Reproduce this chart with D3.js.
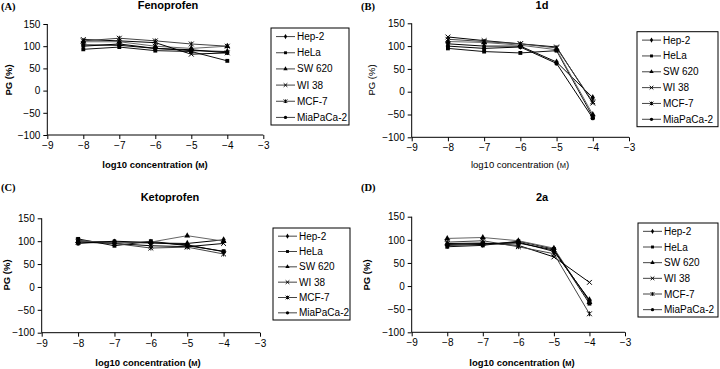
<!DOCTYPE html>
<html lang="en">
<head>
<meta charset="utf-8">
<style>
  body { margin: 0; background: #fff; }
  svg { font-family: "Liberation Sans", Arial, sans-serif; }
</style>
<script src="https://d3js.org/d3.v7.min.js"></script>
</head>
<body>
<svg width="720" height="369"></svg>
<script>

// log10 concentration (M)
var concentrations = [-8, -7, -6, -5, -4];
var cellLines = ["Hep-2", "HeLa", "SW 620", "WI 38", "MCF-7", "MiaPaCa-2"];
var xTicks = [-9, -8, -7, -6, -5, -4, -3];
var yTicks = [150, 100, 50, 0, -50, -100];

// PG (%) per cell line (rows follow cellLines)
var fenoprofen = [
  [100, 105, 95, 90, 88],
  [93, 98, 90, 88, 67],
  [110, 110, 100, 95, 100],
  [115, 112, 108, 82, 85],
  [112, 118, 112, 105, 100],
  [103, 102, 95, 92, 85]
];
var compound1d = [
  [105, 100, 100, 65, -13],
  [95, 88, 85, 90, -55],
  [110, 108, 102, 92, -50],
  [120, 112, 105, 98, -25],
  [115, 110, 105, 96, -22],
  [100, 95, 98, 62, -58]
];
var ketoprofen = [
  [100, 98, 96, 95, 103],
  [105, 90, 100, 90, 78],
  [100, 97, 98, 112, 100],
  [98, 95, 90, 88, 95],
  [102, 95, 85, 87, 72],
  [95, 100, 97, 92, 77]
];
var compound2a = [
  [88, 90, 95, 75, -30],
  [85, 88, 97, 80, -38],
  [103, 105, 98, 82, -35],
  [92, 93, 88, 63, 8],
  [95, 98, 85, 70, -60],
  [90, 92, 93, 78, -32]
];

var lineColors = ["#000", "#111", "#666", "#000", "#444", "#000"];
var markerKinds = ["diamond", "square", "triangle", "x", "asterisk", "circle"];

var panels = [
  {tag: "(A)", title: "Fenoprofen", data: fenoprofen, ox: 0, oy: 0,
   x0: 47.3, x1: 263.3, yT: 24, yB: 135, titleX: 168, titleY: 9,
   legend: [271, 28, 78, 97], xlabX: 155, xlabY: 168, ylabX: 12, ylabY: 80, bold: true},
  {tag: "(B)", title: "1d", data: compound1d, ox: 360, oy: 0,
   x0: 51.7, x1: 269, yT: 23.3, yB: 137.3, titleX: 182, titleY: 9,
   legend: [277, 31.7, 81, 95], xlabX: 160, xlabY: 168, ylabX: 15, ylabY: 80, bold: false},
  {tag: "(C)", title: "Ketoprofen", data: ketoprofen, ox: 0, oy: 180,
   x0: 41.7, x1: 260, yT: 38.3, yB: 152.7, titleX: 170, titleY: 21,
   legend: [273, 48, 77, 92], xlabX: 148, xlabY: 186, ylabX: 10, ylabY: 95, bold: true},
  {tag: "(D)", title: "2a", data: compound2a, ox: 360, oy: 180,
   x0: 51.7, x1: 265, yT: 36.7, yB: 152.3, titleX: 182, titleY: 21,
   legend: [278, 43, 80, 94], xlabX: 162, xlabY: 186, ylabX: 10, ylabY: 95, bold: true}
];

var svg = d3.select("svg");

function marker(g, kind, x, y, s) {
  if (kind == "x" || kind == "asterisk") {
    var d = "M" + (x - s) + "," + (y - s) + "L" + (x + s) + "," + (y + s) +
            "M" + (x - s) + "," + (y + s) + "L" + (x + s) + "," + (y - s);
    if (kind == "asterisk") d += "M" + x + "," + (y - s) + "L" + x + "," + (y + s);
    g.append("path").attr("d", d)
      .attr("stroke", "#000").attr("stroke-width", 1).attr("fill", "none");
  } else {
    var type = {diamond: d3.symbolDiamond, square: d3.symbolSquare,
                triangle: d3.symbolTriangle, circle: d3.symbolCircle}[kind];
    g.append("path")
      .attr("d", d3.symbol().type(type).size(s * s * 2.6)())
      .attr("transform", "translate(" + x + "," + y + ")")
      .attr("fill", "#000");
  }
}

panels.forEach(function(p) {
  var g = svg.append("g").attr("transform", "translate(" + p.ox + "," + p.oy + ")");

  var x = d3.scaleLinear().domain([-9, -3]).range([p.x0, p.x1]);
  var y = d3.scaleLinear().domain([-100, 150]).range([p.yB, p.yT]);

  // panel tag
  g.append("text").attr("x", 1).attr("y", p.oy ? 11 : 9.5)
    .attr("font-family", "'Liberation Serif', 'Times New Roman', serif")
    .attr("font-weight", "bold").attr("font-size", 10.5).text(p.tag);

  g.append("text").attr("x", p.titleX).attr("y", p.titleY)
    .attr("text-anchor", "middle").attr("font-weight", "bold")
    .attr("font-size", 11).text(p.title);

  // axes
  var yAxis = d3.axisLeft(y).tickValues(yTicks).tickSize(4).tickPadding(3)
    .tickFormat(function(d) { return d < 0 ? "\u2212" + Math.abs(d) : d; });
  var xAxis = d3.axisBottom(x).tickValues(xTicks).tickSize(4).tickPadding(3)
    .tickFormat(function(d) { return "\u2212" + Math.abs(d); });

  var ya = g.append("g").attr("transform", "translate(" + p.x0 + ",0)").call(yAxis);
  var xa = g.append("g").attr("transform", "translate(0," + p.yB + ")").call(xAxis);
  [ya, xa].forEach(function(a) {
    a.selectAll("text").attr("font-size", 10).attr("fill", "#000")
      .attr("font-family", "'Liberation Sans', Arial, sans-serif");
    a.selectAll("line").attr("stroke", "#000");
  });
  ya.select(".domain").attr("stroke", "#000").attr("d", "M0," + p.yT + "V" + p.yB);
  xa.select(".domain").attr("stroke", "#000").attr("d", "M" + p.x0 + ",0H" + p.x1);

  // axis labels
  var xl = g.append("text").attr("x", p.xlabX).attr("y", p.xlabY)
    .attr("text-anchor", "middle").attr("font-size", 9.5)
    .attr("font-weight", p.bold ? "bold" : "normal")
    .text("log10 concentration (");
  xl.append("tspan").attr("font-size", 7.5).text("M");
  xl.append("tspan").text(")");

  g.append("text")
    .attr("transform", "translate(" + p.ylabX + "," + p.ylabY + ") rotate(-90)")
    .attr("text-anchor", "middle").attr("font-size", 9.5)
    .attr("font-weight", p.bold ? "bold" : "normal")
    .text("PG (%)");

  // series
  var line = d3.line()
    .x(function(d, i) { return x(concentrations[i]); })
    .y(function(d) { return y(d); });

  p.data.forEach(function(vals, k) {
    g.append("path").attr("d", line(vals)).attr("fill", "none")
      .attr("stroke", lineColors[k]).attr("stroke-width", 1);
  });
  p.data.forEach(function(vals, k) {
    vals.forEach(function(v, i) {
      marker(g, markerKinds[k], x(concentrations[i]), y(v), 2.4);
    });
  });

  // legend
  var L = p.legend;
  g.append("rect").attr("x", L[0]).attr("y", L[1]).attr("width", L[2]).attr("height", L[3])
    .attr("fill", "#fff").attr("stroke", "#000").attr("stroke-width", 1);
  var step = L[3] / cellLines.length;
  cellLines.forEach(function(name, k) {
    var ly = L[1] + step * (k + 0.5) + 0.5;
    g.append("line").attr("x1", L[0] + 5).attr("x2", L[0] + 24)
      .attr("y1", ly).attr("y2", ly).attr("stroke", "#444").attr("stroke-width", 1);
    marker(g, markerKinds[k], L[0] + 14.5, ly, 1.8);
    g.append("text").attr("x", L[0] + 26).attr("y", ly + 3.5)
      .attr("font-size", 10).text(name);
  });
});

</script>
</body>
</html>
